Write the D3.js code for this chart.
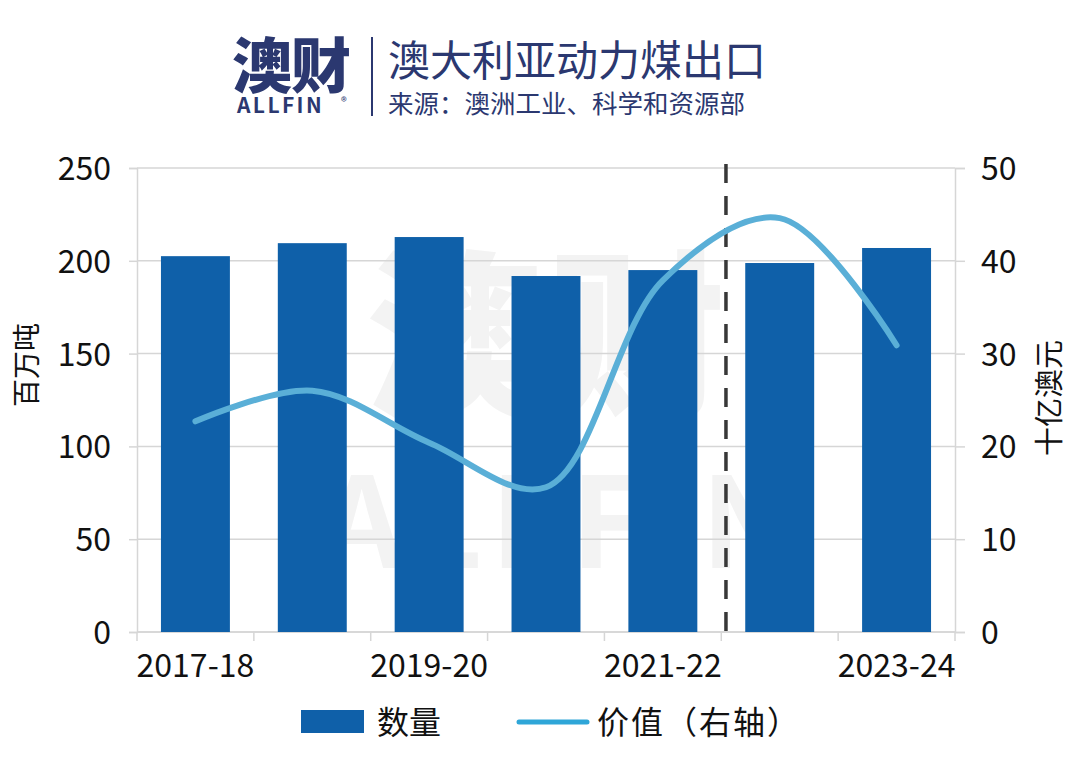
<!DOCTYPE html>
<html>
<head>
<meta charset="utf-8">
<script src="https://cdn.jsdelivr.net/npm/d3@7"></script>
<style>
  body { margin: 0; background: #fff; }
  svg { display: block; }
  text { font-family: "Noto Sans CJK SC", "Noto Sans", sans-serif; }
</style>
</head>
<body>
<svg id="chart" width="1080" height="767"></svg>
<script>
// 资料: 澳大利亚动力煤出口
const years = ["2017-18", "2018-19", "2019-20", "2020-21", "2021-22", "2022-23", "2023-24"];
const volume = [202.5, 209.5, 212.8, 191.8, 195, 198.8, 206.9];   // 百万吨 (左轴)
const value = [22.7, 26.0, 20.4, 15.6, 37.9, 44.6, 30.9];         // 十亿澳元 (右轴)
const shownYears = ["2017-18", "2019-20", "2021-22", "2023-24"];
const leftTicks = [0, 50, 100, 150, 200, 250];
const rightTicks = [0, 10, 20, 30, 40, 50];

const navy = "#2b3870",
      barColor = "#0f60a9",
      lineColor = "#5aafd7",
      gridColor = "#d6d6d6";

const svg = d3.select("#chart"),
      margin = {top: 168, right: 125, bottom: 135, left: 137},
      width = +svg.attr("width") - margin.left - margin.right,
      height = +svg.attr("height") - margin.top - margin.bottom;

// ---- 标题 / logo ----
const head = svg.append("g");
head.append("text")
    .attr("x", 232).attr("y", 88)
    .attr("fill", navy)
    .attr("font-size", 60).attr("font-weight", 900)
    .attr("letter-spacing", -1)
    .text("澳财");
head.append("text")
    .attr("x", 237).attr("y", 113)
    .attr("fill", navy)
    .attr("font-family", "Roboto, sans-serif")
    .attr("font-size", 21).attr("font-weight", 700)
    .attr("letter-spacing", 2.4)
    .text("ALLFIN");
head.append("text")
    .attr("x", 341).attr("y", 106)
    .attr("fill", navy)
    .attr("font-family", "'Noto Sans', sans-serif")
    .attr("font-size", 12)
    .text("®");
head.append("line")
    .attr("x1", 372).attr("x2", 372)
    .attr("y1", 37).attr("y2", 116)
    .attr("stroke", navy).attr("stroke-width", 2);
head.append("text")
    .attr("x", 388).attr("y", 76)
    .attr("fill", navy)
    .attr("font-size", 42)
    .text("澳大利亚动力煤出口");
head.append("text")
    .attr("x", 388).attr("y", 113)
    .attr("fill", navy)
    .attr("font-size", 25.5)
    .text("来源：澳洲工业、科学和资源部");

const g = svg.append("g")
    .attr("transform", "translate(" + margin.left + "," + margin.top + ")");

// ---- 比例尺 ----
const x = d3.scaleBand()
    .domain(years)
    .range([0, width])
    .paddingInner(0.41)
    .paddingOuter(0.205);

const yL = d3.scaleLinear().domain([0, 250]).range([height, 0]);
const yR = d3.scaleLinear().domain([0, 50]).range([height, 0]);

const step = x.step();
const center = d => x(d) + x.bandwidth() / 2;

// 水印
const wm = g.append("g").attr("fill", "#f3f3f3");
wm.append("text")
    .attr("x", width * 0.5).attr("y", 235)
    .attr("text-anchor", "middle")
    .attr("font-size", 180).attr("font-weight", 900)
    .text("澳财");
wm.append("text")
    .attr("x", width * 0.52).attr("y", 400)
    .attr("text-anchor", "middle")
    .attr("font-family", "Roboto, sans-serif")
    .attr("font-size", 125).attr("font-weight", 700)
    .attr("letter-spacing", 8)
    .text("ALLFIN");

// 网格线
g.append("g")
  .selectAll("line")
  .data(leftTicks)
  .join("line")
    .attr("x1", 0).attr("x2", width)
    .attr("y1", d => yL(d)).attr("y2", d => yL(d))
    .attr("stroke", gridColor).attr("stroke-width", 1.5);

// 左轴
const axL = g.append("g")
    .call(d3.axisLeft(yL).tickValues(leftTicks).tickSize(8).tickPadding(18));
axL.select(".domain").attr("stroke", gridColor).attr("stroke-width", 1.5);
axL.selectAll(".tick line").attr("stroke", gridColor).attr("stroke-width", 1.5);
axL.selectAll("text").attr("font-size", 32).attr("fill", "#111")
    .attr("font-family", "'Noto Sans', sans-serif").attr("dy", "0.36em");

// 右轴
const axR = g.append("g")
    .attr("transform", "translate(" + width + ",0)")
    .call(d3.axisRight(yR).tickValues(rightTicks).tickSize(10).tickPadding(16));
axR.select(".domain").attr("stroke", gridColor).attr("stroke-width", 1.5);
axR.selectAll(".tick line").attr("stroke", gridColor).attr("stroke-width", 1.5);
axR.selectAll("text").attr("font-size", 32).attr("fill", "#111")
    .attr("font-family", "'Noto Sans', sans-serif").attr("dy", "0.36em");

// 下轴: 刻度在类别分界处, 标签隔一个显示
const bottom = g.append("g").attr("transform", "translate(0," + height + ")");
bottom.append("line")
    .attr("x1", 0).attr("x2", width)
    .attr("stroke", gridColor).attr("stroke-width", 1.5);
bottom.selectAll(".bt")
  .data(d3.range(years.length + 1))
  .join("line")
    .attr("class", "bt")
    .attr("x1", i => i * step).attr("x2", i => i * step)
    .attr("y1", 0).attr("y2", 9)
    .attr("stroke", gridColor).attr("stroke-width", 1.5);
bottom.selectAll("text")
  .data(shownYears)
  .join("text")
    .attr("x", d => center(d))
    .attr("y", 45)
    .attr("text-anchor", "middle")
    .attr("font-family", "'Noto Sans', sans-serif")
    .attr("font-size", 32).attr("fill", "#111")
    .text(d => d);

// 轴标题
g.append("text")
    .attr("transform", "translate(-100," + (yL(125) - 35) + ") rotate(-90)")
    .attr("text-anchor", "middle")
    .attr("font-size", 28).attr("fill", "#111")
    .text("百万吨");
g.append("text")
    .attr("transform", "translate(" + (width + 105) + "," + (yR(25) - 2) + ") rotate(-90)")
    .attr("text-anchor", "middle")
    .attr("font-size", 29).attr("fill", "#111")
    .text("十亿澳元");

// 柱子
g.append("g")
  .selectAll("rect")
  .data(years)
  .join("rect")
    .attr("x", d => x(d))
    .attr("y", (d, i) => yL(volume[i]))
    .attr("width", x.bandwidth())
    .attr("height", (d, i) => height - yL(volume[i]))
    .attr("fill", barColor);

// 预测分隔虚线
const splitX = 5 * step + step * 0.04;
g.append("line")
    .attr("x1", splitX).attr("x2", splitX)
    .attr("y1", -4).attr("y2", height)
    .attr("stroke", "#383838")
    .attr("stroke-width", 3.5)
    .attr("stroke-dasharray", "19,13");

// 价值曲线
const line = d3.line()
    .x((d, i) => center(years[i]))
    .y(d => yR(d))
    .curve(d3.curveCatmullRom.alpha(0.5));

g.append("path")
    .datum(value)
    .attr("fill", "none")
    .attr("stroke", lineColor)
    .attr("stroke-width", 6)
    .attr("stroke-linecap", "round")
    .attr("stroke-linejoin", "round")
    .attr("d", line);

// 图例
const lg = svg.append("g");
lg.append("rect")
    .attr("x", 301).attr("y", 710)
    .attr("width", 63).attr("height", 23)
    .attr("fill", barColor);
lg.append("text")
    .attr("x", 377).attr("y", 734)
    .attr("font-size", 32).attr("fill", "#111")
    .text("数量");
lg.append("line")
    .attr("x1", 519).attr("x2", 587)
    .attr("y1", 722).attr("y2", 722)
    .attr("stroke", "#2fa6d8").attr("stroke-width", 5)
    .attr("stroke-linecap", "round");
lg.append("text")
    .attr("x", 597).attr("y", 734)
    .attr("font-size", 32).attr("fill", "#111")
    .attr("letter-spacing", 2)
    .text("价值（右轴）");
</script>
</body>
</html>
